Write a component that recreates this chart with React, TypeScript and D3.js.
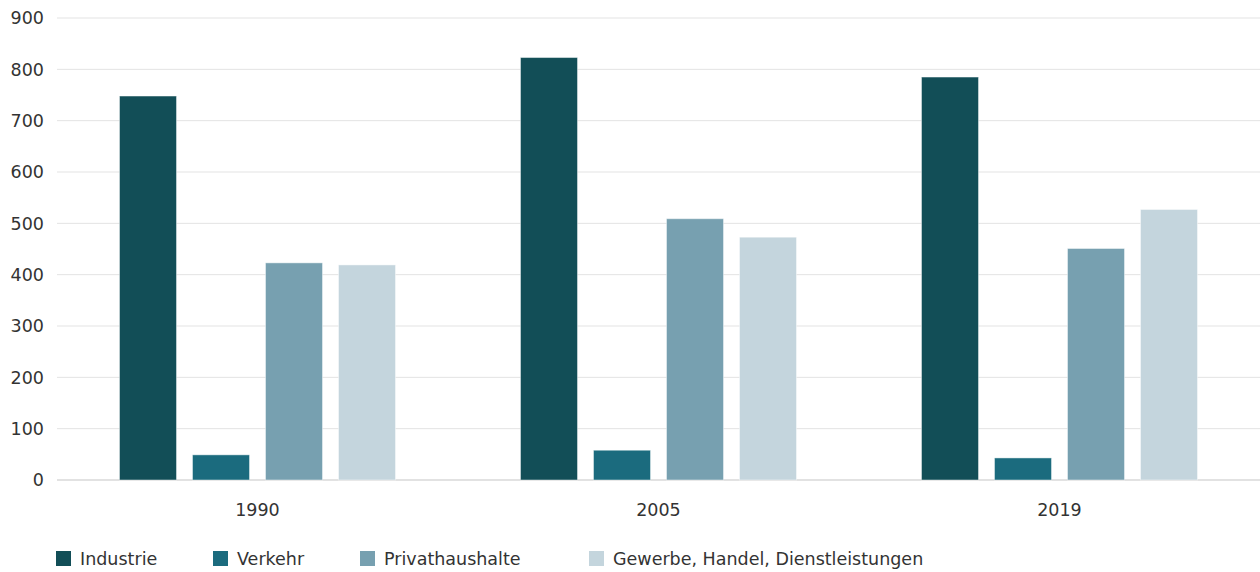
import React from "react";
import * as d3 from "d3";

const years = ["1990", "2005", "2019"];
const seriesNames = ["Industrie", "Verkehr", "Privathaushalte", "Gewerbe, Handel, Dienstleistungen"];
const industrie = [748, 823, 785];
const verkehr = [49, 58, 43];
const privathaushalte = [423, 509, 451];
const gewerbe = [419, 473, 527];
const yTicks = [0, 100, 200, 300, 400, 500, 600, 700, 800, 900];

const colors = ["#124e57", "#1b6b7e", "#77a0b0", "#c4d5dd"];
const legendX = [56, 213, 360, 589];

const W = 1260;
const H = 572;
const FONT = "'DejaVu Sans', sans-serif";
const FS = 17.5;

export default function App() {
  const series = [industrie, verkehr, privathaushalte, gewerbe];
  const x0 = d3.scaleBand<string>().domain(years).range([57, 1260]).paddingInner(0).paddingOuter(0);
  const x1 = d3
    .scaleBand<string>()
    .domain(seriesNames)
    .range([0, x0.bandwidth()])
    .paddingInner(0.219)
    .paddingOuter(0.856);
  const y = d3.scaleLinear().domain([0, 900]).range([480, 18]);

  return (
    <div style={{ position: "absolute", left: 0, top: 0 }}>
      <svg width={W} height={H} style={{ display: "block", fontFamily: FONT }}>
        <rect width={W} height={H} fill="#fff" />
        {yTicks.map((t) => (
          <g key={t}>
            <line
              x1={57}
              x2={1260}
              y1={y(t)}
              y2={y(t)}
              stroke={t === 0 ? "#e2e2e2" : "#e3e3e3"}
              strokeWidth={t === 0 ? 2 : 1}
            />
            <text x={44} y={y(t)} dy="0.36em" textAnchor="end" fontSize={FS} fill="#333">
              {t}
            </text>
          </g>
        ))}
        {years.map((yr, i) => (
          <g key={yr} transform={`translate(${x0(yr)},0)`}>
            {seriesNames.map((s, j) => (
              <rect
                key={s}
                x={x1(s)}
                y={y(series[j][i])}
                width={x1.bandwidth()}
                height={y(0) - y(series[j][i])}
                fill={colors[j]}
                stroke="rgba(255,255,255,0.45)"
                strokeWidth={1}
              />
            ))}
            <text
              x={x0.bandwidth() / 2}
              y={516}
              textAnchor="middle"
              fontSize={FS}
              fill="#333"
            >
              {yr}
            </text>
          </g>
        ))}
        {seriesNames.map((s, j) => (
          <g key={s} transform={`translate(${legendX[j]},0)`}>
            <rect x={0} y={551} width={15} height={15} fill={colors[j]} />
            <text x={24} y={565} fontSize={FS} fill="#333">
              {s}
            </text>
          </g>
        ))}
      </svg>
    </div>
  );
}
